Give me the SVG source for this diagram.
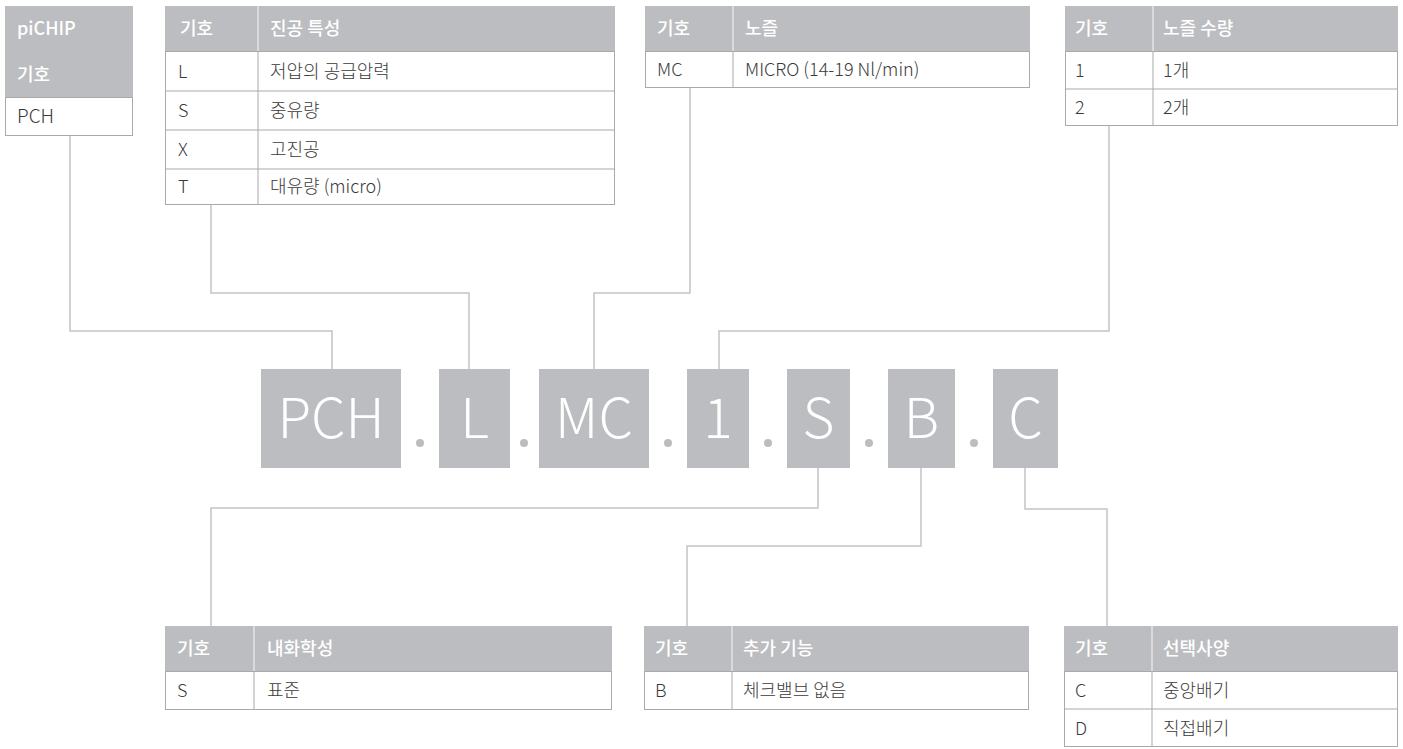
<svg xmlns="http://www.w3.org/2000/svg" width="1403" height="749" viewBox="0 0 1403 749">
<style>
  text { font-family: "Noto Sans CJK KR", "Noto Sans", sans-serif; }
  .hd { fill: #bcbdc0; }
  .hdt { fill: #ffffff; font-size: 18px; font-weight: 500; }
  .bd { fill: #ffffff; stroke: #a9a9a9; stroke-width: 1; }
  .ln { stroke: #a9a9a9; stroke-width: 1; fill: none; }
  .hl { stroke: #e4e4e6; stroke-width: 1.5; }
  .bt { fill: #3a3a3a; font-size: 18px; font-weight: 300; }
  .code { fill: #bcbdc0; }
  .ct { fill: #ffffff; font-size: 55px; font-weight: 300; text-anchor: middle; }
  .dot { fill: #bcbdc0; }
  .conn { stroke: #c4c4c6; stroke-width: 1.5; fill: none; }
</style>

<g id="connectors">
  <polyline class="conn" points="70,136 70,331 332,331 332,369"/>
  <polyline class="conn" points="211,204 211,293 469,293 469,369"/>
  <polyline class="conn" points="690,88 690,293 594,293 594,369"/>
  <polyline class="conn" points="1109,126 1109,331 719,331 719,369"/>
  <polyline class="conn" points="818,468 818,508 211,508 211,626"/>
  <polyline class="conn" points="921,468 921,546 687,546 687,626"/>
  <polyline class="conn" points="1025,468 1025,509 1107,509 1107,626"/>
</g>

<g id="table-pichip">
  <rect class="hd" x="5" y="6" width="128" height="91"/>
  <text class="hdt" x="17" y="35">piCHIP</text>
  <text class="hdt" x="17" y="81">기호</text>
  <rect class="bd" x="5.5" y="97.5" width="127" height="38"/>
  <text class="bt" x="17" y="123" style="font-size:19px">PCH</text>
</g>

<g id="table-vacuum">
  <rect class="hd" x="165" y="6" width="450" height="45"/>
  <line class="hl" x1="258" y1="6" x2="258" y2="51"/>
  <text class="hdt" x="180" y="35">기호</text>
  <text class="hdt" x="270" y="35">진공 특성</text>
  <rect class="bd" x="165.5" y="51.5" width="449" height="153"/>
  <line class="ln" x1="165" y1="91" x2="615" y2="91"/>
  <line class="ln" x1="165" y1="130" x2="615" y2="130"/>
  <line class="ln" x1="165" y1="169" x2="615" y2="169"/>
  <line class="ln" x1="258" y1="51" x2="258" y2="204"/>
  <text class="bt" x="178" y="78">L</text><text class="bt" x="270" y="78">저압의 공급압력</text>
  <text class="bt" x="178" y="117">S</text><text class="bt" x="270" y="117">중유량</text>
  <text class="bt" x="178" y="156">X</text><text class="bt" x="270" y="156">고진공</text>
  <text class="bt" x="178" y="193">T</text><text class="bt" x="270" y="193">대유량 (micro)</text>
</g>

<g id="table-nozzle">
  <rect class="hd" x="645" y="6" width="385" height="45"/>
  <line class="hl" x1="733" y1="6" x2="733" y2="51"/>
  <text class="hdt" x="657" y="35">기호</text>
  <text class="hdt" x="745" y="35">노즐</text>
  <rect class="bd" x="645.5" y="51.5" width="384" height="36"/>
  <line class="ln" x1="733" y1="51" x2="733" y2="88"/>
  <text class="bt" x="657" y="76">MC</text><text class="bt" x="745" y="76">MICRO (14-19 Nl/min)</text>
</g>

<g id="table-count">
  <rect class="hd" x="1065" y="6" width="333" height="45"/>
  <line class="hl" x1="1153" y1="6" x2="1153" y2="51"/>
  <text class="hdt" x="1075" y="35">기호</text>
  <text class="hdt" x="1163" y="35">노즐 수량</text>
  <rect class="bd" x="1065.5" y="51.5" width="332" height="74"/>
  <line class="ln" x1="1065" y1="89" x2="1398" y2="89"/>
  <line class="ln" x1="1153" y1="51" x2="1153" y2="126"/>
  <text class="bt" x="1075" y="77">1</text><text class="bt" x="1163" y="77">1개</text>
  <text class="bt" x="1075" y="114">2</text><text class="bt" x="1163" y="114">2개</text>
</g>

<g id="code">
  <rect class="code" x="261" y="369" width="140" height="99"/>
  <text class="ct" x="331" y="438">PCH</text>
  <circle class="dot" cx="420" cy="443" r="4"/>
  <rect class="code" x="439" y="369" width="71" height="99"/>
  <text class="ct" x="474.5" y="438">L</text>
  <circle class="dot" cx="524" cy="443" r="4"/>
  <rect class="code" x="539" y="369" width="110" height="99"/>
  <text class="ct" x="594" y="438">MC</text>
  <circle class="dot" cx="668" cy="443" r="4"/>
  <rect class="code" x="687" y="369" width="62" height="99"/>
  <text class="ct" x="718" y="438">1</text>
  <circle class="dot" cx="768" cy="443" r="4"/>
  <rect class="code" x="787" y="369" width="63" height="99"/>
  <text class="ct" x="818.5" y="438">S</text>
  <circle class="dot" cx="869" cy="443" r="4"/>
  <rect class="code" x="888" y="369" width="67" height="99"/>
  <text class="ct" x="921.5" y="438">B</text>
  <circle class="dot" cx="974" cy="443" r="4"/>
  <rect class="code" x="993" y="369" width="65" height="99"/>
  <text class="ct" x="1025.5" y="438">C</text>
</g>

<g id="table-chemical">
  <rect class="hd" x="165" y="626" width="447" height="45"/>
  <line class="hl" x1="254" y1="626" x2="254" y2="671"/>
  <text class="hdt" x="177" y="655">기호</text>
  <text class="hdt" x="267" y="655">내화학성</text>
  <rect class="bd" x="165.5" y="671.5" width="446" height="38"/>
  <line class="ln" x1="254" y1="671" x2="254" y2="710"/>
  <text class="bt" x="177" y="697">S</text><text class="bt" x="267" y="697">표준</text>
</g>

<g id="table-function">
  <rect class="hd" x="644" y="626" width="385" height="45"/>
  <line class="hl" x1="732" y1="626" x2="732" y2="671"/>
  <text class="hdt" x="655" y="655">기호</text>
  <text class="hdt" x="743" y="655">추가 기능</text>
  <rect class="bd" x="644.5" y="671.5" width="384" height="38"/>
  <line class="ln" x1="732" y1="671" x2="732" y2="710"/>
  <text class="bt" x="655" y="697">B</text><text class="bt" x="743" y="697">체크밸브 없음</text>
</g>

<g id="table-option">
  <rect class="hd" x="1064" y="626" width="334" height="45"/>
  <line class="hl" x1="1152" y1="626" x2="1152" y2="671"/>
  <text class="hdt" x="1075" y="655">기호</text>
  <text class="hdt" x="1163" y="655">선택사양</text>
  <rect class="bd" x="1064.5" y="671.5" width="333" height="75"/>
  <line class="ln" x1="1064" y1="709" x2="1398" y2="709"/>
  <line class="ln" x1="1152" y1="671" x2="1152" y2="747"/>
  <text class="bt" x="1075" y="697">C</text><text class="bt" x="1163" y="697">중앙배기</text>
  <text class="bt" x="1075" y="735">D</text><text class="bt" x="1163" y="735">직접배기</text>
</g>
</svg>
